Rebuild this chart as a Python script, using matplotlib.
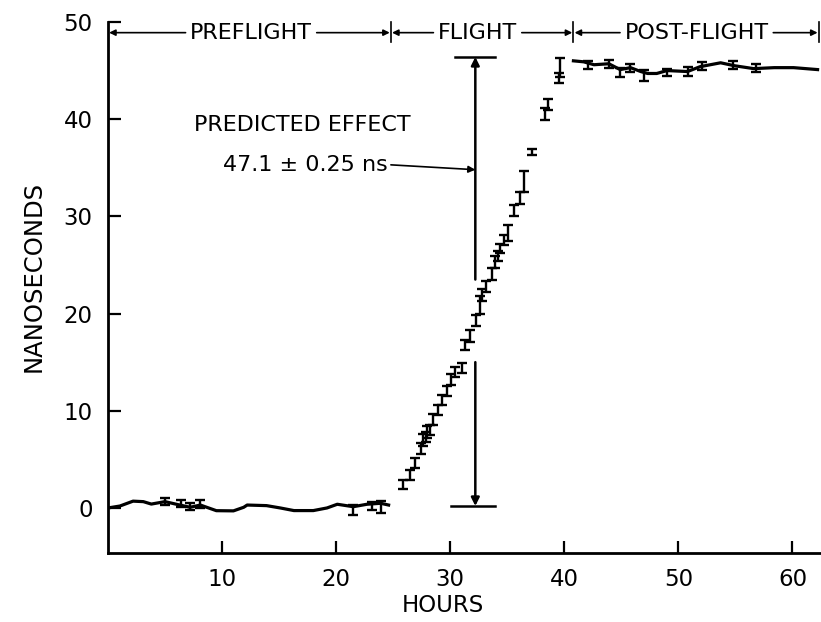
import numpy as np
import matplotlib.pyplot as plt

#Datos (horas, nanosegundos)
pre_h = [0.0, 1.05, 2.2, 3.1, 3.8, 5.0, 6.3, 7.2, 8.1, 9.5, 11.0, 11.9, 12.2, 13.9,
         15.1, 16.3, 18.0, 19.2, 20.1, 21.5, 22.7, 23.9, 24.6]
pre_ns = [0.0, 0.2, 0.7, 0.65, 0.4, 0.65, 0.3, 0.07, 0.3, -0.28, -0.3, 0.07, 0.3, 0.24,
          0.0, -0.27, -0.27, 0.0, 0.38, 0.13, 0.38, 0.48, 0.3]
pre_err_h = [5.0, 6.4, 7.2, 8.1, 21.5, 23.1, 23.9]
pre_err_ns = [0.65, 0.47, 0.17, 0.4, -0.2, 0.2, 0.13]
pre_err = [0.35, 0.35, 0.37, 0.4, 0.5, 0.45, 0.6]

fl_h = [25.9, 26.5, 26.9, 27.4, 27.6, 27.9, 28.0, 28.2, 28.5, 28.9, 29.3, 29.7, 30.1, 30.4,
        31.0, 31.3, 31.7, 32.3, 32.6, 32.8, 33.1, 33.7, 33.9, 34.2, 34.4, 34.7, 35.1, 35.6,
        36.1, 36.5, 37.2, 38.3, 38.6, 39.5, 39.6]
fl_ns = [2.4, 3.4, 4.6, 6.1, 7.0, 7.3, 7.8, 8.0, 9.1, 10.1, 11.1, 12.0, 13.2, 14.0,
         14.4, 16.8, 17.7, 19.3, 20.9, 21.9, 22.8, 24.1, 25.3, 25.9, 26.7, 27.6, 28.3, 30.6,
         31.9, 33.6, 36.6, 40.5, 41.5, 44.2, 45.3]
fl_err = [0.5, 0.5, 0.5, 0.6, 0.6, 0.5, 0.6, 0.5, 0.6, 0.5, 0.5, 0.5, 0.6, 0.5,
          0.5, 0.5, 0.6, 0.6, 0.9, 0.6, 0.6, 0.6, 0.6, 0.5, 0.5, 0.5, 0.8, 0.6,
          0.6, 1.1, 0.3, 0.6, 0.6, 0.5, 1.0]

post_h = [40.8, 41.7, 42.6, 43.9, 44.9, 45.8, 46.7, 47.3, 48.1, 49.0, 50.8, 51.9, 53.7,
          54.9, 56.6, 58.4, 60.1, 62.2]
post_ns = [46.0, 45.9, 45.6, 45.7, 45.1, 45.3, 44.9, 44.7, 44.7, 45.0, 44.9, 45.4, 45.8,
           45.5, 45.2, 45.3, 45.3, 45.1]
post_err_h = [42.1, 43.9, 44.9, 45.8, 47.0, 49.0, 50.8, 52.1, 54.8, 56.8]
post_err_ns = [45.6, 45.7, 44.8, 45.3, 44.5, 44.8, 44.9, 45.5, 45.6, 45.3]
post_err = [0.4, 0.4, 0.5, 0.4, 0.6, 0.4, 0.5, 0.4, 0.4, 0.4]

x_ticks = [10, 20, 30, 40, 50, 60]
y_ticks = [0, 10, 20, 30, 40, 50]

#Etiquetas de las fases
fases = ["PREFLIGHT", "FLIGHT", "POST-FLIGHT"]
fase_lim = [0.0, 24.8, 40.8, 62.3]
fase_centro = [12.55, 32.4, 51.6]

plt.rcParams['font.family'] = ['DejaVu Sans']
fig = plt.figure(figsize=(8.21, 6.22), dpi=100)
ax = fig.add_axes([0.1315, 0.111, 0.8685, 0.889])

ax.plot(pre_h, pre_ns, color="black", lw=2.3)
ax.plot(post_h, post_ns, color="black", lw=2.3)
eb = dict(fmt="none", ecolor="black", elinewidth=1.7, capsize=3.5, capthick=1.7)
ax.errorbar(pre_err_h, pre_err_ns, yerr=pre_err, **eb)
ax.errorbar(fl_h, fl_ns, yerr=fl_err, **eb)
ax.errorbar(post_err_h, post_err_ns, yerr=post_err, **eb)

#Efecto predicho
px = 32.2
ax.plot([30.4, 33.9], [46.4, 46.4], color="black", lw=1.8)
ax.plot([30.1, 33.9], [0.2, 0.2], color="black", lw=1.8)
ap = dict(arrowstyle="-|>", color="black", lw=1.8, mutation_scale=12, shrinkA=0, shrinkB=0)
ax.annotate("", xy=(px, 46.4), xytext=(px, 23.5), arrowprops=ap)
ax.annotate("", xy=(px, 0.2), xytext=(px, 15.0), arrowprops=ap)
ax.text(17.0, 39.4, "PREDICTED EFFECT", fontsize=16, ha="center", va="center")
ax.text(10.1, 35.3, "47.1 ± 0.25 ns", fontsize=16, ha="left", va="center")
ax.annotate("", xy=(px, 34.8), xytext=(24.8, 35.3),
            arrowprops=dict(arrowstyle="-|>", color="black", lw=1.2, mutation_scale=10,
                            shrinkA=0, shrinkB=0))

ax.set_xlim(0, 62.5)
ax.set_ylim(-4.63, 52.26)

#Encabezado de fases
yf = 48.9
ah = dict(arrowstyle="-|>", color="black", lw=1.2, mutation_scale=9, shrinkA=0, shrinkB=0)
textos = [ax.text(c, yf, n, fontsize=16, ha="center", va="center")
          for c, n in zip(fase_centro, fases)]
fig.canvas.draw()
r = fig.canvas.get_renderer()
inv = ax.transData.inverted()
for i, t in enumerate(textos):
    bb = t.get_window_extent(r)
    t0 = inv.transform((bb.x0, bb.y0))[0]
    t1 = inv.transform((bb.x1, bb.y0))[0]
    a, b = fase_lim[i], fase_lim[i + 1]
    ax.annotate("", xy=(a + 0.1, yf), xytext=(t0 - 0.4, yf), arrowprops=ah)
    ax.annotate("", xy=(b - 0.1, yf), xytext=(t1 + 0.4, yf), arrowprops=ah)
for b in fase_lim[1:]:
    ax.plot([b, b], [47.9, 50.0], color="black", lw=1.2)

ax.spines["top"].set_visible(False)
ax.spines["right"].set_visible(False)
ax.spines["left"].set_bounds(-4.63, 50)
ax.spines["left"].set_linewidth(2)
ax.spines["bottom"].set_linewidth(2)
ax.set_xticks(x_ticks)
ax.set_yticks(y_ticks)
ax.tick_params(direction="in", length=9, width=1.6, labelsize=16.5, pad=11)
ax.set_xlabel("HOURS", fontsize=16.5)
ax.xaxis.set_label_coords(0.47, -0.075)
ax.set_ylabel("NANOSECONDS", fontsize=17.5)
ax.yaxis.set_label_coords(-0.088, 0.5)

plt.savefig("out.png", dpi=100)
